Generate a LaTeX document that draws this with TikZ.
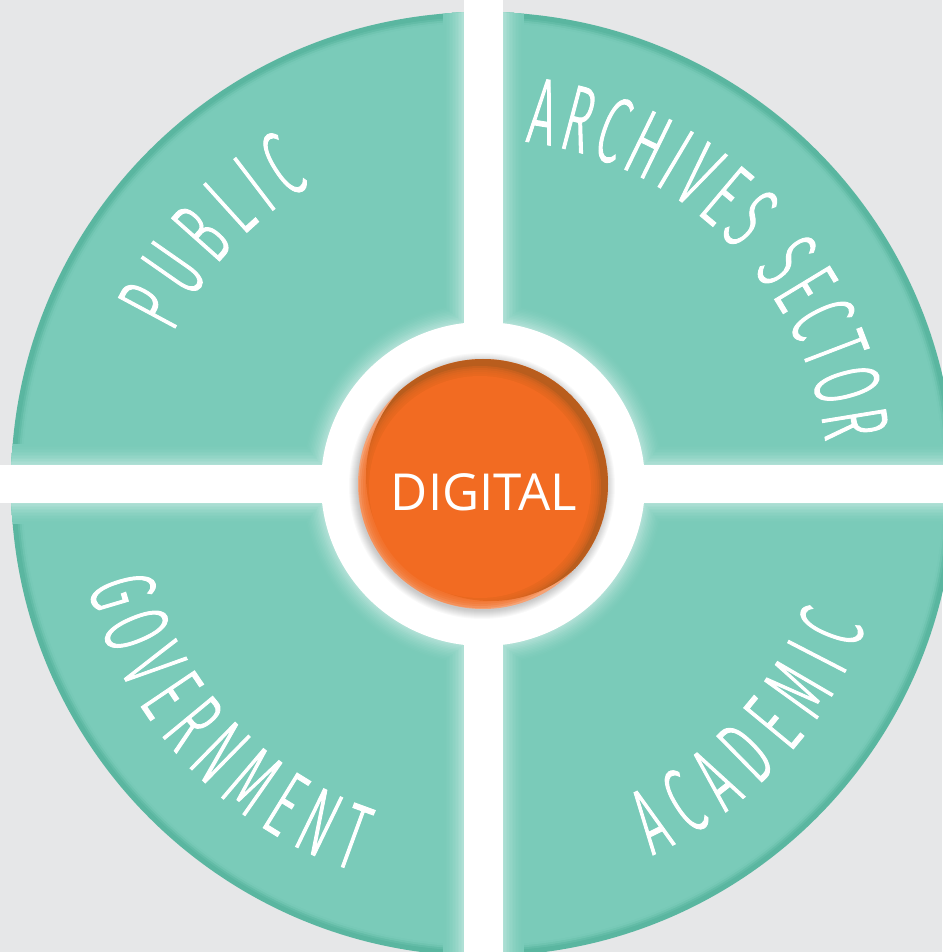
\documentclass[tikz,border=0pt]{standalone}
\usepackage{fontspec}
\usetikzlibrary{decorations.text}

\setmainfont{Open Sans}
\newfontfamily\handfont{Fira Sans Light}[FakeStretch=0.5, FakeBold=1]

\definecolor{paper}{HTML}{E6E7E8}
\definecolor{wheelbody}{HTML}{7ACBB9}
\definecolor{wheelrim}{HTML}{5AB6A0}
\definecolor{hub}{HTML}{F26B22}
\definecolor{hubdark}{HTML}{B95D1D}
\definecolor{hublight}{HTML}{F6A274}

\tikzset{
  sector label/.style={decorate, decoration={text along path, text align={fit to path},
      text color=white, text={|\handfont\fontsize{94}{94}\selectfont|#1}}},
  hub label/.style={text=white, font=\fontsize{51}{51}\selectfont, anchor=base},
}

\begin{document}
\begin{tikzpicture}[x=1pt, y=1pt]

    % page, wheel centred at the origin
    \fill[paper] (-483,-468) rectangle (459,484);
    \useasboundingbox (-483,-468) rectangle (459,484);

    % the wheel with its darker rim
    \fill[wheelrim] (0,0) circle[radius=472];
    \foreach \r/\o in {467/0.3, 465/0.55, 463/0.8, 461/1}
        \fill[wheelbody, opacity=\o] (0,0) circle[radius=\r];

    % light glow along the bars and the ring
    \begin{scope}
        \clip (0,0) circle[radius=472];
        \foreach \k in {14,...,1} {
            \pgfmathsetmacro\mix{100-45*(1-\k/14)^1.6}
            \fill[wheelbody!\mix!white] (-19.5-1.5*\k,-470) rectangle (19.5+1.5*\k,486);
            \fill[wheelbody!\mix!white] (-485,-19-1.5*\k) rectangle (461,18.5+1.5*\k);
            \fill[wheelbody!\mix!white] (0,0) circle[radius=162+1.5*\k];
        }
    \end{scope}

    % white cross and ring
    \fill[white] (-19.5,-470) rectangle (19.5,486);
    \fill[white] (-485,-19) rectangle (461,18.5);
    \fill[white] (0,0) circle[radius=162];

    % hub: soft shadow, then the orange disc
    \foreach \k in {1,...,9}
        \fill[black, opacity=0.025] (-1,-2) circle[radius=124+\k];
    \begin{scope}
        \clip (0,0) circle[radius=125];
        \fill[hublight] (0,0) circle[radius=125];
        \fill[hubdark] (8,8) circle[radius=125];
        \foreach \r in {121,119,117,115,113}
            \fill[hub, opacity=0.3] (-3,-3) circle[radius=\r];
        \fill[hub] (-3,-3) circle[radius=111];
    \end{scope}
    \node[hub label] (digital) at (1,-27) {DIGITAL};

    % sector names along the wheel
    \path[sector label=PUBLIC]
        (154:345) arc[start angle=154, end angle=120, radius=345];
    \path[sector label=ARCHIVES SECTOR]
        (83:345) arc[start angle=83, end angle=7, radius=345];
    \path[sector label=GOVERNMENT]
        (194.5:408) arc[start angle=194.5, end angle=251.5, radius=408];
    \path[sector label=ACADEMIC]
        (294.5:408) arc[start angle=294.5, end angle=339.5, radius=408];

\end{tikzpicture}
\end{document}
